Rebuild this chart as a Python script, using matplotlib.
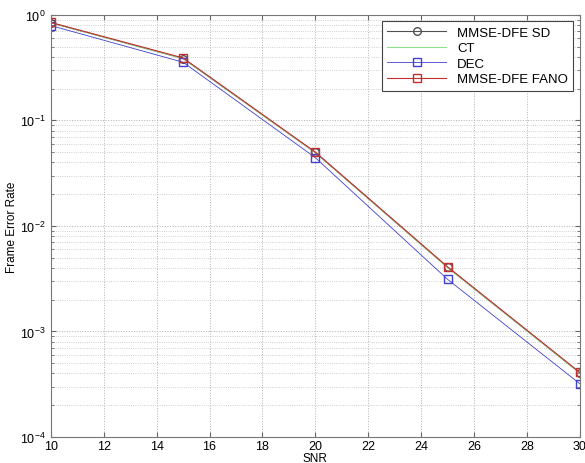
import matplotlib

matplotlib.use("Agg")
import matplotlib.pyplot as plt
import numpy as np

snr = [10, 15, 20, 25, 30]
fer_sd = [0.84, 0.385, 0.0496, 0.00405, 0.000405]
fer_ct = [0.84, 0.385, 0.0496, 0.00405, 0.000405]
fer_dec = [0.79, 0.355, 0.0443, 0.00312, 0.00032]
fer_fano = [0.845, 0.39, 0.0500, 0.00410, 0.00041]

plt.rcParams["font.family"] = ["Liberation Sans", "DejaVu Sans"]
plt.rcParams["font.size"] = 9

fig = plt.figure(figsize=(5.85, 4.64), dpi=100)
ax = fig.add_axes([0.087, 0.056, 0.904, 0.910])

ax.semilogy(snr, fer_sd, color="#505050", marker="o", mfc="none", ms=5.5, lw=0.8, label="MMSE-DFE SD")
ax.semilogy(snr, fer_ct, color="#8ee08e", lw=0.8, label="CT")
ax.semilogy(snr, fer_dec, color="#4040d0", marker="s", mfc="none", ms=5.5, lw=0.6, label="DEC")
ax.semilogy(snr, fer_fano, color="#c03030", marker="s", mfc="none", ms=5.5, lw=0.8, label="MMSE-DFE FANO")

ax.set_xlim(10, 30)
ax.set_ylim(1e-4, 1)
ax.set_xticks(np.arange(10, 31, 2))
ax.set_xlabel("SNR", labelpad=0, fontsize=8.5)
ax.set_ylabel("Frame Error Rate", labelpad=2, fontsize=8.5)

ax.grid(True, which="major", linestyle=":", color="#b0b0b0", lw=0.7)
ax.grid(True, which="minor", axis="y", linestyle=":", color="#c0c0c0", lw=0.6)
ax.tick_params(which="both", direction="in", top=True, right=True, color="#666666")
ax.tick_params(axis="x", pad=2)
for spine in ax.spines.values():
    spine.set_color("#777777")

leg = ax.legend(loc="upper right", fancybox=False, framealpha=1, edgecolor="#444444",
                borderaxespad=0.5, handlelength=4.5, labelspacing=0.25, fontsize=9.5)
leg.get_frame().set_linewidth(0.8)

fig.savefig("out.png", dpi=100)
